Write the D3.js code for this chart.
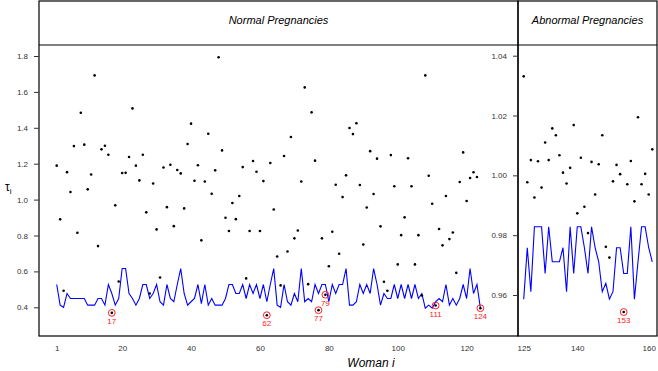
<!DOCTYPE html>
<html>
<head>
<meta charset="utf-8">
<script src="https://cdn.jsdelivr.net/npm/d3@7"></script>
<style>
  body { margin: 0; background: #fff; }
  svg { display: block; }
  text { font-family: "Liberation Sans", Arial, sans-serif; }
</style>
</head>
<body>
<svg id="chart" width="658" height="371"></svg>
<script>
// tau_i for normal pregnancies, woman 1..124
const normalTau = [
  1.189, 0.890, 0.492, 1.153, 1.042, 1.298, 0.815, 1.484, 1.306, 1.057,
  1.140, 1.692, 0.741, 1.280, 1.300, 1.250, 0.369, 0.968, 0.544, 1.148,
  1.149, 1.237, 1.508, 1.189, 1.107, 1.250, 0.929, 0.477, 1.090, 0.834,
  0.566, 1.179, 0.958, 1.194, 0.852, 1.165, 1.146, 0.951, 1.310, 1.423,
  1.105, 1.191, 0.773, 1.101, 1.367, 1.033, 1.163, 1.793, 1.274, 0.899,
  0.825, 0.981, 0.891, 1.020, 1.181, 0.561, 0.825, 1.215, 1.155, 0.825,
  1.103, 0.356, 1.204, 0.945, 0.683, 0.522, 1.243, 0.711, 1.349, 0.784,
  0.828, 1.101, 1.625, 0.529, 1.486, 1.217, 0.384, 0.784, 0.470, 0.629,
  0.821, 1.083, 0.698, 1.014, 1.135, 1.399, 1.365, 1.425, 1.081, 0.750,
  0.956, 1.270, 1.031, 1.228, 0.851, 0.542, 0.492, 1.248, 1.074, 0.639,
  0.802, 0.901, 1.230, 1.074, 0.639, 0.802, 0.466, 1.692, 1.133, 0.977,
  0.410, 0.836, 0.745, 1.020, 0.780, 0.817, 0.592, 1.098, 1.263, 0.992,
  1.120, 1.152, 1.126, 0.395
];
// cut-off curve (blue) for normal pregnancies
const normalCut = [
  0.527, 0.412, 0.400, 0.477, 0.449, 0.449, 0.449, 0.449, 0.449, 0.412,
  0.412, 0.412, 0.449, 0.449, 0.412, 0.527, 0.477, 0.412, 0.449, 0.616,
  0.616, 0.477, 0.449, 0.412, 0.449, 0.527, 0.527, 0.449, 0.477, 0.527,
  0.431, 0.412, 0.527, 0.449, 0.431, 0.527, 0.616, 0.477, 0.412, 0.431,
  0.449, 0.527, 0.420, 0.527, 0.412, 0.449, 0.412, 0.412, 0.412, 0.449,
  0.527, 0.527, 0.477, 0.477, 0.527, 0.449, 0.527, 0.477, 0.527, 0.449,
  0.527, 0.431, 0.527, 0.616, 0.412, 0.400, 0.527, 0.431, 0.412, 0.477,
  0.431, 0.616, 0.431, 0.449, 0.431, 0.527, 0.477, 0.527, 0.527, 0.431,
  0.527, 0.477, 0.527, 0.527, 0.616, 0.412, 0.412, 0.431, 0.527, 0.477,
  0.527, 0.477, 0.616, 0.527, 0.412, 0.477, 0.449, 0.449, 0.527, 0.449,
  0.527, 0.449, 0.527, 0.449, 0.527, 0.449, 0.477, 0.395, 0.412, 0.395,
  0.431, 0.449, 0.431, 0.527, 0.412, 0.449, 0.412, 0.449, 0.527, 0.449,
  0.616, 0.477, 0.527, 0.395
];
// tau_i for abnormal pregnancies, woman 125..161
const abnormalTau = [
  1.0331, 0.9977, 1.0051, 0.9926, 1.0047, 0.9959, 1.0110, 1.0051, 1.0157, 1.0134,
  1.0067, 1.0009, 0.9973, 1.0025, 1.0168, 0.9873, 1.0059, 0.9895, 0.9807, 1.0045,
  0.9936, 1.0037, 1.0134, 0.9761, 0.9725, 0.9980, 1.0035, 1.0004, 0.9543, 0.9970,
  1.0048, 0.9913, 1.0194, 0.9970, 1.0005, 0.9936, 1.0087
];
const abnormalCut = [
  0.9586, 0.9758, 0.9611, 0.9828, 0.9828, 0.9828, 0.9672, 0.9828, 0.9711, 0.9711,
  0.9711, 0.9758, 0.9611, 0.9828, 0.9672, 0.9828, 0.9828, 0.9758, 0.9672, 0.9828,
  0.9758, 0.9711, 0.9611, 0.9639, 0.9586, 0.9611, 0.9758, 0.9758, 0.9672, 0.9672,
  0.9828, 0.9586, 0.9711, 0.9828, 0.9828, 0.9758, 0.9711
];
const flagged = [17, 62, 77, 79, 111, 124, 153];
const panelTitles = ["Normal Pregnancies", "Abnormal Pregnancies"];
const leftXTicks = [1, 20, 40, 60, 80, 100, 120];
const rightXTicks = [125, 140, 160];
const leftYTicks = [0.4, 0.6, 0.8, 1.0, 1.2, 1.4, 1.6, 1.8];
const rightYTicks = [0.96, 0.98, 1.00, 1.02, 1.04];

const svg = d3.select("#chart");
const frameTop = 1, stripBottom = 45, frameBottom = 336;

const panels = [
  {x0: 39, x1: 518, title: panelTitles[0], start: 1, tau: normalTau, cut: normalCut,
   x: d3.scaleLinear().domain([1, 124]).range([56.7, 480.4]),
   y: d3.scaleLinear().domain([0.4, 1.8]).range([307.3, 56]),
   xt: leftXTicks, yt: leftYTicks, yfmt: d3.format(".1f")},
  {x0: 518, x1: 657, title: panelTitles[1], start: 125, tau: abnormalTau, cut: abnormalCut,
   x: d3.scaleLinear().domain([125, 160]).range([523.7, 648.7]),
   y: d3.scaleLinear().domain([0.96, 1.04]).range([295, 55.7]),
   xt: rightXTicks, yt: rightYTicks, yfmt: d3.format(".2f")}
];

panels.forEach(p => {
  const g = svg.append("g");
  const data = p.tau.map((v, k) => ({i: p.start + k, v: v, c: p.cut[k]}));

  // blue cut-off line
  g.append("path")
    .datum(data)
    .attr("fill", "none")
    .attr("stroke", "#0000ff")
    .attr("stroke-width", 1.1)
    .attr("d", d3.line().x(d => p.x(d.i)).y(d => p.y(d.c)));

  // points
  g.selectAll("circle.pt")
    .data(data)
    .join("circle")
    .attr("class", "pt")
    .attr("cx", d => p.x(d.i))
    .attr("cy", d => p.y(d.v))
    .attr("r", 1.3)
    .attr("fill", "#000");

  // flagged women
  const fl = data.filter(d => flagged.includes(d.i));
  g.selectAll("circle.flag")
    .data(fl)
    .join("circle")
    .attr("class", "flag")
    .attr("cx", d => p.x(d.i))
    .attr("cy", d => p.y(d.v))
    .attr("r", 3.4)
    .attr("fill", "none")
    .attr("stroke", "#ff2020")
    .attr("stroke-width", 1);
  g.selectAll("text.flag")
    .data(fl)
    .join("text")
    .attr("class", "flag")
    .attr("x", d => p.x(d.i))
    .attr("y", d => p.y(d.v) + 11)
    .attr("text-anchor", "middle")
    .attr("font-size", 8)
    .attr("fill", "#ff2020")
    .text(d => d.i);

  // panel + strip frames
  g.append("rect")
    .attr("x", p.x0).attr("y", frameTop)
    .attr("width", p.x1 - p.x0).attr("height", frameBottom - frameTop)
    .attr("fill", "none").attr("stroke", "#000").attr("stroke-width", 1.2);
  g.append("line")
    .attr("x1", p.x0).attr("x2", p.x1)
    .attr("y1", stripBottom).attr("y2", stripBottom)
    .attr("stroke", "#000").attr("stroke-width", 1.2);
  g.append("text")
    .attr("x", (p.x0 + p.x1) / 2).attr("y", 24)
    .attr("text-anchor", "middle")
    .attr("font-size", 11)
    .attr("font-style", "italic")
    .text(p.title);

  // x axis (labels only, no tick marks)
  const xa = g.append("g").attr("transform", `translate(0,${frameBottom})`)
    .call(d3.axisBottom(p.x).tickValues(p.xt).tickSize(0).tickPadding(9));
  xa.select(".domain").remove();
  xa.selectAll("text").attr("font-size", 8).attr("fill", "#333");

  // y axis
  const ya = g.append("g").attr("transform", `translate(${p.x0},0)`)
    .call(d3.axisLeft(p.y).tickValues(p.yt).tickFormat(p.yfmt).tickSize(5).tickPadding(6));
  ya.select(".domain").remove();
  ya.selectAll("line").attr("stroke", "#333");
  ya.selectAll("text").attr("font-size", 8).attr("fill", "#333");
});

// axis titles
svg.append("text")
  .attr("x", 371).attr("y", 367)
  .attr("text-anchor", "middle")
  .attr("font-size", 12)
  .attr("font-style", "italic")
  .text("Woman i");
const yt = svg.append("text").attr("x", 5).attr("y", 191).attr("font-size", 12);
yt.append("tspan").text("\u03c4");
yt.append("tspan").attr("font-size", 8).attr("dy", 3).text("i");
</script>
</body>
</html>
